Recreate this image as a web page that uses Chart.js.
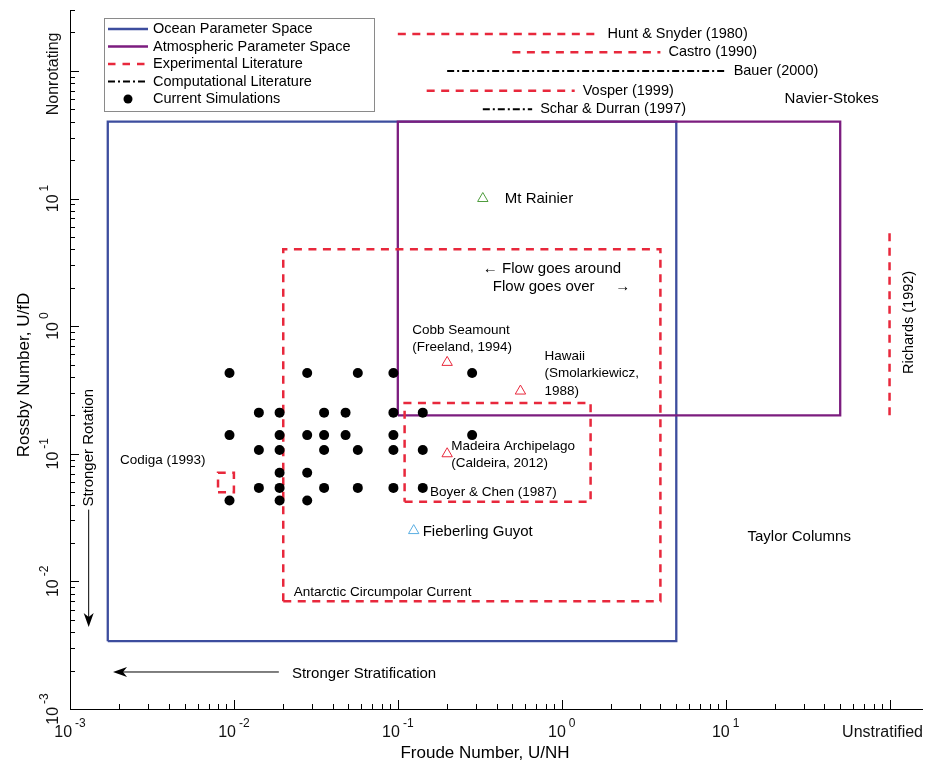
<!DOCTYPE html>
<html>
<head>
<meta charset="utf-8">
<script src="https://cdn.jsdelivr.net/npm/chart.js@4.4.1/dist/chart.umd.min.js"></script>
<style>
  html, body { margin: 0; padding: 0; background: #fff; }
  canvas { display: block; }
</style>
</head>
<body>
<canvas id="grafico" width="934" height="765"></canvas>
<script>
// --- DATOS ---
// cajas de parametros [min, max]
const oceanFr = [0.0017, 5];
const oceanRo = [0.0034, 40];
const atmosFr = [0.1, 50];
const atmosRo = [0.2, 40];

// cajas experimentales
const accFr = [0.02, 4];          // Antarctic Circumpolar Current
const accRo = [0.007, 4];
const boyerFr = [0.11, 1.5];      // Boyer & Chen (1987)
const boyerRo = [0.042, 0.25];
const codigaFr = [0.008, 0.01];   // Codiga (1993)
const codigaRo = [0.05, 0.071];

// rangos de Fr en la literatura (Ro fijo)
const litNames = ["Hunt & Snyder (1980)", "Castro (1990)", "Bauer (2000)", "Vosper (1999)", "Schar & Durran (1997)"];
const litKind = ["exp", "exp", "comp", "exp", "comp"];
const litFrMin = [0.1, 0.5, 0.2, 0.15, 0.33];
const litFrMax = [1.7, 4, 10, 1.2, 0.66];
const litRo = [195, 140, 100, 70, 50];

// Richards (1992): rango de Ro con Fr = 100
const richardsFr = 100;
const richardsRo = [0.2, 6];

// simulaciones actuales
const simFr = [
  0.0094, 0.028, 0.057, 0.094, 0.284,
  0.0142, 0.019, 0.0355, 0.048, 0.094, 0.142,
  0.0094, 0.019, 0.028, 0.0355, 0.048, 0.094, 0.284,
  0.0142, 0.019, 0.0355, 0.057, 0.094, 0.142,
  0.019, 0.028,
  0.0142, 0.019, 0.0355, 0.057, 0.094, 0.142,
  0.0094, 0.019, 0.028
];
const simRo = [
  0.43, 0.43, 0.43, 0.43, 0.43,
  0.21, 0.21, 0.21, 0.21, 0.21, 0.21,
  0.14, 0.14, 0.14, 0.14, 0.14, 0.14, 0.14,
  0.107, 0.107, 0.107, 0.107, 0.107, 0.107,
  0.071, 0.071,
  0.054, 0.054, 0.054, 0.054, 0.054, 0.054,
  0.043, 0.043, 0.043
];

// lugares reales
const siteNames = ["Mt Rainier", "Cobb Seamount", "Hawaii", "Madeira Archipelago", "Fieberling Guyot"];
const siteFr = [0.33, 0.2, 0.56, 0.2, 0.125];
const siteRo = [10, 0.52, 0.31, 0.1, 0.025];

// ejes
const xTicks = [1e-3, 1e-2, 1e-1, 1, 10, 100];
const xTickLabels = ["10^-3", "10^-2", "10^-1", "10^0", "10^1", "Unstratified"];
const yTicks = [1e-3, 1e-2, 1e-1, 1, 10, 100];
const yTickLabels = ["10^-3", "10^-2", "10^-1", "10^0", "10^1", "Nonrotating"];

// --- ESTILO ---
const FUENTE = "'Liberation Sans', Arial, Helvetica, sans-serif";
const AZUL = "#3d4d9e";
const MORADO = "#7c1d7f";
const ROJO = "#e8283c";
const NEGRO = "#000000";
const siteColors = ["#4f9c3e", ROJO, ROJO, ROJO, "#5aaee2"];
const DASH_EXP = [8, 6.5];
const DASH_COMP = [7, 3, 2, 3];

function caja(fr, ro) {
  return [
    { x: fr[0], y: ro[0] }, { x: fr[1], y: ro[0] }, { x: fr[1], y: ro[1] },
    { x: fr[0], y: ro[1] }, { x: fr[0], y: ro[0] }
  ];
}

function linea(label, pts, color, dash, width) {
  return {
    label: label, data: pts, showLine: true,
    borderColor: color, borderWidth: width, borderDash: dash,
    pointRadius: 0, pointHoverRadius: 0, tension: 0, fill: false,
    borderJoinStyle: "miter", borderCapStyle: "butt"
  };
}

const datasets = [
  {
    label: "Current Simulations",
    data: simFr.map((x, i) => ({ x: x, y: simRo[i] })),
    showLine: false, pointStyle: "circle", pointRadius: 5, pointHoverRadius: 5,
    pointBackgroundColor: NEGRO, pointBorderWidth: 0
  },
  {
    label: "Sites",
    data: siteFr.map((x, i) => ({ x: x, y: siteRo[i] })),
    showLine: false, pointStyle: "triangle", pointRadius: 6, pointHoverRadius: 6,
    pointBackgroundColor: "rgba(0,0,0,0)", pointBorderColor: siteColors, pointBorderWidth: 1
  },
  linea("Codiga (1993)", caja(codigaFr, codigaRo), ROJO, DASH_EXP, 2.5),
  linea("Boyer & Chen (1987)", caja(boyerFr, boyerRo), ROJO, DASH_EXP, 2.5),
  linea("Antarctic Circumpolar Current", caja(accFr, accRo), ROJO, DASH_EXP, 2.5),
  linea("Richards (1992)", [{ x: richardsFr, y: richardsRo[0] }, { x: richardsFr, y: richardsRo[1] }], ROJO, DASH_EXP, 2.5)
];
litNames.forEach((n, i) => {
  const pts = [{ x: litFrMin[i], y: litRo[i] }, { x: litFrMax[i], y: litRo[i] }];
  if (litKind[i] === "exp") datasets.push(linea(n, pts, ROJO, DASH_EXP, 2.5));
  else datasets.push(linea(n, pts, NEGRO, DASH_COMP, 2));
});
datasets.push(linea("Atmospheric Parameter Space", caja(atmosFr, atmosRo), MORADO, [], 2.3));
datasets.push(linea("Ocean Parameter Space", caja(oceanFr, oceanRo), AZUL, [], 2.3));

// textos sueltos en coordenadas de datos
const notas = [
  { t: "Navier-Stokes", fr: 22.9, ro: 60, size: 15 },
  { t: "Taylor Columns", fr: 13.6, ro: 0.0224, size: 15 },
  { t: "\u2190 Flow goes around", fr: 0.33, ro: 2.79, size: 15 },
  { t: "Flow goes over", fr: 0.38, ro: 2.02, size: 15 },
  { t: "\u2192", fr: 2.12, ro: 2.02, size: 15 },
  { t: "Codiga (1993)", fr: 0.00202, ro: 0.0885, size: 13.5 },
  { t: "Boyer & Chen (1987)", fr: 0.157, ro: 0.0498, size: 13.5 },
  { t: "Antarctic Circumpolar Current", fr: 0.0232, ro: 0.00828, size: 13.5 },
  { t: "Richards (1992)", fr: 130.6, ro: 1.07, size: 14.5, rot: true, align: "center" },
  { t: "Stronger Stratification", fr: 0.0226, ro: 0.00188, size: 15 },
  { t: "Stronger Rotation", fr: 0.0013, ro: 0.0386, size: 15, rot: true }
];

// etiquetas de los lugares (desplazamiento en px respecto al triangulo)
const siteLabels = [
  { lines: ["Mt Rainier"], dx: 22, dy: [0], size: 15 },
  { lines: ["Cobb Seamount", "(Freeland, 1994)"], dx: -35, dy: [-32, -15], size: 13.5 },
  { lines: ["Hawaii", "(Smolarkiewicz,", "1988)"], dx: 24, dy: [-35, -18, 0], size: 13.5 },
  { lines: ["Madeira Archipelago", "(Caldeira, 2012)"], dx: 4, dy: [-7, 10], size: 13.5 },
  { lines: ["Fieberling Guyot"], dx: 9, dy: [1], size: 15 }
];

const leyenda = [
  { t: "Ocean Parameter Space", color: AZUL, dash: [], w: 2.5 },
  { t: "Atmospheric Parameter Space", color: MORADO, dash: [], w: 2.5 },
  { t: "Experimental Literature", color: ROJO, dash: [7.5, 7], w: 2.5 },
  { t: "Computational Literature", color: NEGRO, dash: DASH_COMP, w: 2 },
  { t: "Current Simulations", dot: true }
];

function texto(ctx, str, x, y, size, align, rot) {
  ctx.save();
  ctx.font = size + "px " + FUENTE;
  ctx.fillStyle = "#000";
  ctx.textAlign = align || "left";
  ctx.textBaseline = "middle";
  ctx.translate(x, y);
  if (rot) ctx.rotate(-Math.PI / 2);
  ctx.fillText(str, 0, 0);
  ctx.restore();
}

function potencia(ctx, lab, x, y, rot) {
  const partes = lab.split("^");
  ctx.save();
  ctx.translate(x, y);
  if (rot) ctx.rotate(-Math.PI / 2);
  ctx.fillStyle = "#111";
  ctx.textBaseline = "middle";
  if (partes.length === 1) {
    ctx.font = "16px " + FUENTE;
    ctx.textAlign = "center";
    ctx.fillText(partes[0], 0, 0);
  } else {
    ctx.font = "16px " + FUENTE;
    const wb = ctx.measureText(partes[0]).width;
    ctx.font = "12px " + FUENTE;
    const we = ctx.measureText(partes[1]).width;
    const w = wb + 3 + we;
    ctx.textAlign = "left";
    ctx.font = "16px " + FUENTE;
    ctx.fillText(partes[0], -w / 2, 0);
    ctx.font = "12px " + FUENTE;
    ctx.fillText(partes[1], -w / 2 + wb + 3, -9);
  }
  ctx.restore();
}

function flecha(ctx, x0, y0, x1, y1) {
  const ang = Math.atan2(y1 - y0, x1 - x0);
  ctx.save();
  ctx.strokeStyle = "#000";
  ctx.fillStyle = "#000";
  ctx.lineWidth = 1;
  ctx.beginPath();
  ctx.moveTo(x0, y0);
  ctx.lineTo(x1 - 6 * Math.cos(ang), y1 - 6 * Math.sin(ang));
  ctx.stroke();
  ctx.translate(x1, y1);
  ctx.rotate(ang);
  ctx.beginPath();
  ctx.moveTo(0, 0);
  ctx.lineTo(-14, -5);
  ctx.lineTo(-10, 0);
  ctx.lineTo(-14, 5);
  ctx.closePath();
  ctx.fill();
  ctx.restore();
}

const dibujo = {
  id: "dibujo",
  afterDraw(chart) {
    const ctx = chart.ctx;
    const xs = chart.scales.x, ys = chart.scales.y;
    const a = chart.chartArea;

    // ejes
    ctx.save();
    ctx.strokeStyle = "#000";
    ctx.lineWidth = 1;
    ctx.beginPath();
    ctx.moveTo(a.left + 0.5, a.top);
    ctx.lineTo(a.left + 0.5, a.bottom + 0.5);
    ctx.lineTo(a.right, a.bottom + 0.5);
    ctx.stroke();

    // marcas menores y mayores
    ctx.beginPath();
    for (let e = -3; e <= 2; e++) {
      for (let m = 1; m <= 9; m++) {
        const v = m * Math.pow(10, e);
        const len = m === 1 ? 9 : 5;
        if (v <= xs.max) {
          const px = Math.round(xs.getPixelForValue(v)) + 0.5;
          ctx.moveTo(px, a.bottom);
          ctx.lineTo(px, a.bottom - len);
        }
        if (v <= ys.max) {
          const py = Math.round(ys.getPixelForValue(v)) + 0.5;
          ctx.moveTo(a.left, py);
          ctx.lineTo(a.left + len, py);
        }
      }
    }
    ctx.stroke();
    ctx.restore();

    // etiquetas de los ejes
    xTicks.forEach((v, i) => {
      const px = xs.getPixelForValue(v);
      const lab = xTickLabels[i];
      potencia(ctx, lab, lab.includes("^") ? px : px - 7, a.bottom + 24, false);
    });
    yTicks.forEach((v, i) => {
      const py = ys.getPixelForValue(v);
      const lab = yTickLabels[i];
      potencia(ctx, lab, a.left - 16, lab.includes("^") ? py : py + 3, true);
    });
    texto(ctx, "Froude Number, U/NH", 485, 753, 17, "center");
    texto(ctx, "Rossby Number, U/fD", 24, 375, 17, "center", true);

    // etiquetas de la literatura
    litNames.forEach((n, i) => {
      texto(ctx, n, xs.getPixelForValue(litFrMax[i]) + 8, ys.getPixelForValue(litRo[i]), 14.5);
    });

    // etiquetas de los lugares
    siteLabels.forEach((s, i) => {
      const px = xs.getPixelForValue(siteFr[i]);
      const py = ys.getPixelForValue(siteRo[i]);
      s.lines.forEach((l, j) => texto(ctx, l, px + s.dx, py + s.dy[j], s.size));
    });

    // notas
    notas.forEach(n => {
      texto(ctx, n.t, xs.getPixelForValue(n.fr), ys.getPixelForValue(n.ro), n.size, n.align, n.rot);
    });

    // flechas
    flecha(ctx, xs.getPixelForValue(0.0188), ys.getPixelForValue(0.00195),
      xs.getPixelForValue(0.00183), ys.getPixelForValue(0.00195));
    flecha(ctx, xs.getPixelForValue(0.0013), ys.getPixelForValue(0.0365),
      xs.getPixelForValue(0.0013), ys.getPixelForValue(0.0044));

    // leyenda
    ctx.save();
    ctx.fillStyle = "#fff";
    ctx.fillRect(104.5, 18.5, 270, 93);
    ctx.strokeStyle = "#8a8a8a";
    ctx.lineWidth = 1;
    ctx.strokeRect(104.5, 18.5, 270, 93);
    leyenda.forEach((it, i) => {
      const y = 29 + i * 17.5;
      if (it.dot) {
        ctx.fillStyle = "#000";
        ctx.beginPath();
        ctx.arc(128, y, 4.5, 0, Math.PI * 2);
        ctx.fill();
      } else {
        ctx.strokeStyle = it.color;
        ctx.lineWidth = it.w;
        ctx.setLineDash(it.dash);
        ctx.beginPath();
        ctx.moveTo(108, y);
        ctx.lineTo(148, y);
        ctx.stroke();
        ctx.setLineDash([]);
      }
      texto(ctx, it.t, 153, y, 14.5);
    });
    ctx.restore();
  }
};

new Chart(document.getElementById("grafico"), {
  type: "scatter",
  data: { datasets: datasets },
  options: {
    responsive: false,
    animation: false,
    events: [],
    layout: { padding: { left: 70, top: 10, right: 11, bottom: 56 } },
    plugins: { legend: { display: false }, tooltip: { enabled: false } },
    scales: {
      x: { type: "logarithmic", min: 1e-3, max: 160, display: false },
      y: { type: "logarithmic", min: 1e-3, max: 300, display: false }
    }
  },
  plugins: [dibujo]
});
</script>
</body>
</html>
